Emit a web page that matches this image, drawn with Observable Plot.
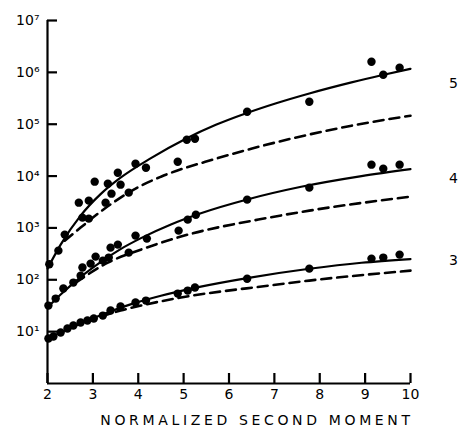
<!DOCTYPE html>
<html><head><meta charset="utf-8">
<script src="https://cdn.jsdelivr.net/npm/d3@7"></script>
<script src="https://cdn.jsdelivr.net/npm/@observablehq/plot@0.6"></script>
<style>
body{margin:0;background:#fff;}
#chart svg{display:block;}
</style>
</head><body><div id="chart"></div>
<script>
// Axis ticks
const xTicks = [2, 3, 4, 5, 6, 7, 8, 9, 10];
const yTicks = [1e1, 1e2, 1e3, 1e4, 1e5, 1e6, 1e7];
const xLabel = "NORMALIZED SECOND MOMENT";

// Series names and label heights (right side)
const seriesNames = ["5", "4", "3"];
const seriesLabelY = [6.0e5, 8900, 234];

// Measured points
const pts5X = [2.04, 2.24, 2.38, 2.69, 2.77, 2.91, 2.91, 3.04, 3.28, 3.33, 3.41, 3.55, 3.61, 3.79, 3.94, 4.17, 4.87, 5.07, 5.25, 6.40, 7.77, 9.14, 9.40, 9.76];
const pts5Y = [200, 365, 743, 3070, 1580, 1510, 3360, 7800, 3070, 7140, 4580, 11600, 6830, 4790, 17300, 14500, 18900, 50300, 52600, 174000, 271000, 1.6e6, 9.0e5, 1.23e6];

const pts4X = [2.02, 2.18, 2.35, 2.57, 2.73, 2.77, 2.95, 3.06, 3.22, 3.35, 3.39, 3.55, 3.79, 3.94, 4.19, 4.89, 5.09, 5.27, 6.40, 7.77, 9.14, 9.40, 9.76];
const pts4Y = [31.8, 43.4, 67.7, 88.3, 120, 172, 205, 280, 234, 268, 417, 477, 334, 711, 622, 887, 1445, 1800, 3510, 5980, 16600, 13900, 16600];

const pts3X = [2.02, 2.13, 2.29, 2.44, 2.57, 2.73, 2.88, 3.02, 3.22, 3.39, 3.61, 3.94, 4.17, 4.87, 5.09, 5.25, 6.40, 7.77, 9.14, 9.40, 9.76];
const pts3Y = [7.36, 8.05, 9.6, 11.5, 13.1, 15.0, 16.4, 17.9, 20.4, 25.5, 30.5, 36.4, 39.7, 54.2, 61.9, 70.8, 105, 164, 256, 268, 306];

// Solid (fitted) curves
const solid5X = [2.00, 2.29, 2.73, 3.17, 3.61, 4.28, 5.05, 5.71, 6.38, 7.04, 7.77, 8.70, 9.36, 10.0];
const solid5Y = [164, 477, 1726, 4480, 9310, 22200, 52600, 97300, 163000, 254000, 392000, 641000, 879000, 1.17e6];
const solid4X = [2.00, 2.29, 2.73, 3.17, 3.61, 4.06, 4.72, 5.38, 6.40, 7.59, 8.92, 10.0];
const solid4Y = [29.1, 51.9, 113, 219, 391, 636, 1167, 1920, 3540, 6220, 10000, 13590];
const solid3X = [2.00, 2.51, 3.17, 3.83, 4.50, 5.38, 6.40, 7.77, 8.92, 10.0];
const solid3Y = [7.36, 11.8, 20.7, 33.6, 49.2, 73.9, 108, 163, 213, 251];

// Dashed curves
const dash5X = [2.38, 2.73, 3.17, 3.61, 4.06, 4.50, 5.71, 6.49, 7.37, 8.70, 10.0];
const dash5Y = [569, 1014, 2061, 3835, 6530, 9730, 21600, 33700, 52600, 93600, 146000];
const dash4X = [2.62, 3.33, 4.12, 4.94, 6.88, 7.77, 10.0];
const dash4Y = [88, 214, 399, 680, 1580, 2155, 4010];
const dash3X = [2.84, 3.61, 4.06, 4.94, 6.88, 7.77, 10.0];
const dash3Y = [15.5, 25.5, 31.8, 45.4, 77.3, 96.5, 150];

const toRows = (name, xs, ys) => xs.map((x, i) => ({series: name, x, y: ys[i]}));
const points = [...toRows("5", pts5X, pts5Y), ...toRows("4", pts4X, pts4Y), ...toRows("3", pts3X, pts3Y)];
const solids = [...toRows("5", solid5X, solid5Y), ...toRows("4", solid4X, solid4Y), ...toRows("3", solid3X, solid3Y)];
const dashes = [...toRows("5", dash5X, dash5Y), ...toRows("4", dash4X, dash4Y), ...toRows("3", dash3X, dash3Y)];
const labels = seriesNames.map((s, i) => ({s, y: seriesLabelY[i]}));

const supers = {0:"⁰",1:"¹",2:"²",3:"³",4:"⁴",5:"⁵",6:"⁶",7:"⁷",8:"⁸",9:"⁹"};
const fmtY = d => "10" + String(Math.round(Math.log10(d))).split("").map(c => supers[c]).join("");

const FONT = "DejaVu Sans";
const W = 461, H = 434, ML = 47, MR = 51, MT = 20, MB = 51, TICK = 10;

const chart = Plot.plot({
  width: W,
  height: H,
  marginLeft: ML,
  marginRight: MR,
  marginTop: MT,
  marginBottom: MB,
  style: {fontFamily: FONT, background: "#fff"},
  x: {domain: [2, 10], axis: null},
  y: {type: "log", domain: [1, 1e7], axis: null},
  marks: [
    // inward-pointing ticks (rules shortened with insets)
    Plot.ruleX(xTicks, {stroke: "black", strokeWidth: 2.2, insetTop: (H - MT - MB) - TICK}),
    Plot.ruleY(yTicks, {stroke: "black", strokeWidth: 2.2, insetRight: (W - ML - MR) - TICK}),
    Plot.text(xTicks, {x: d => d, frameAnchor: "bottom", dy: 15, fontSize: 14, fill: "black", text: d => String(d)}),
    Plot.text(yTicks, {y: d => d, frameAnchor: "left", dx: -8, textAnchor: "end", fontSize: 14, fill: "black", text: fmtY}),
    Plot.line(dashes, {x: "x", y: "y", z: "series", curve: "monotone-x", stroke: "black", strokeWidth: 2.6, strokeDasharray: "10,6"}),
    Plot.line(solids, {x: "x", y: "y", z: "series", curve: "monotone-x", stroke: "black", strokeWidth: 2.2}),
    Plot.dot(points, {x: "x", y: "y", r: 4.2, fill: "black", stroke: "none"}),
    Plot.text(labels, {x: () => 10, y: "y", text: "s", dx: 43, fontSize: 14, fill: "black", textAnchor: "middle"}),
    Plot.text([xLabel], {frameAnchor: "bottom", dy: 41, dx: 28, fontSize: 14, fill: "black"}),
    Plot.ruleX([2], {stroke: "black", strokeWidth: 2.2}),
    Plot.ruleY([1], {stroke: "black", strokeWidth: 2.2})
  ]
});
document.getElementById("chart").appendChild(chart);
const texts = chart.querySelectorAll("text");
texts[texts.length - 1].style.letterSpacing = "3.65px";
</script>
</body></html>
